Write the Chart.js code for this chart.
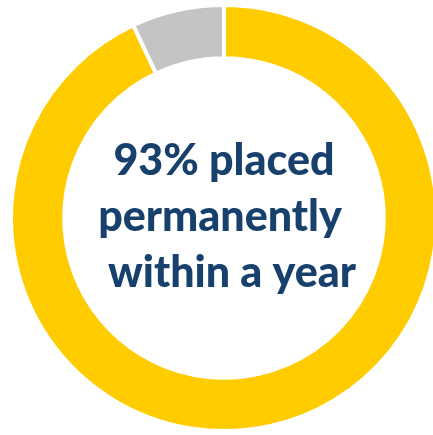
<!DOCTYPE html>
<html>
<head>
<meta charset="utf-8">
<script src="https://cdn.jsdelivr.net/npm/chart.js@4"></script>
<style>
  html, body { margin: 0; padding: 0; background: #fff; overflow: hidden; }
  #wrap { position: absolute; left: 0; top: 0; width: 450px; height: 435px; }
</style>
</head>
<body>
<div id="wrap"><canvas id="donut"></canvas></div>
<script>
// ─── Data ───
var labels = ["Placed permanently within a year", "Not placed"];
var values = [93, 7];
var colors = ["#FFCC00", "#C4C3C5"];
var centerLines = ["93% placed", "permanently", "within a year"];

// draws the caption in the hole
var centerText = {
  id: "centerText",
  afterDraw: function (chart) {
    var arc = chart.getDatasetMeta(0).data[0];
    if (!arc) return;
    var ctx = chart.ctx;
    var offsets = [0, -4, 8];
    ctx.save();
    ctx.fillStyle = "#17406D";
    ctx.font = "900 43px Lato";
    ctx.textAlign = "center";
    ctx.textBaseline = "alphabetic";
    centerLines.forEach(function (line, i) {
      ctx.fillText(line, arc.x + offsets[i], 175 + i * 56);
    });
    ctx.restore();
  },
};

new Chart(document.getElementById("donut"), {
  type: "doughnut",
  data: {
    labels: labels,
    datasets: [
      {
        data: values,
        backgroundColor: colors,
        borderColor: "#ffffff",
        borderWidth: 4,
        hoverOffset: 0,
      },
    ],
  },
  options: {
    responsive: true,
    maintainAspectRatio: false,
    animation: false,
    cutout: "75%",
    layout: { padding: { left: 9, top: 3, right: 11, bottom: 2 } },
    plugins: {
      legend: { display: false },
      tooltip: { enabled: false },
    },
  },
  plugins: [centerText],
});
</script>
</body>
</html>
